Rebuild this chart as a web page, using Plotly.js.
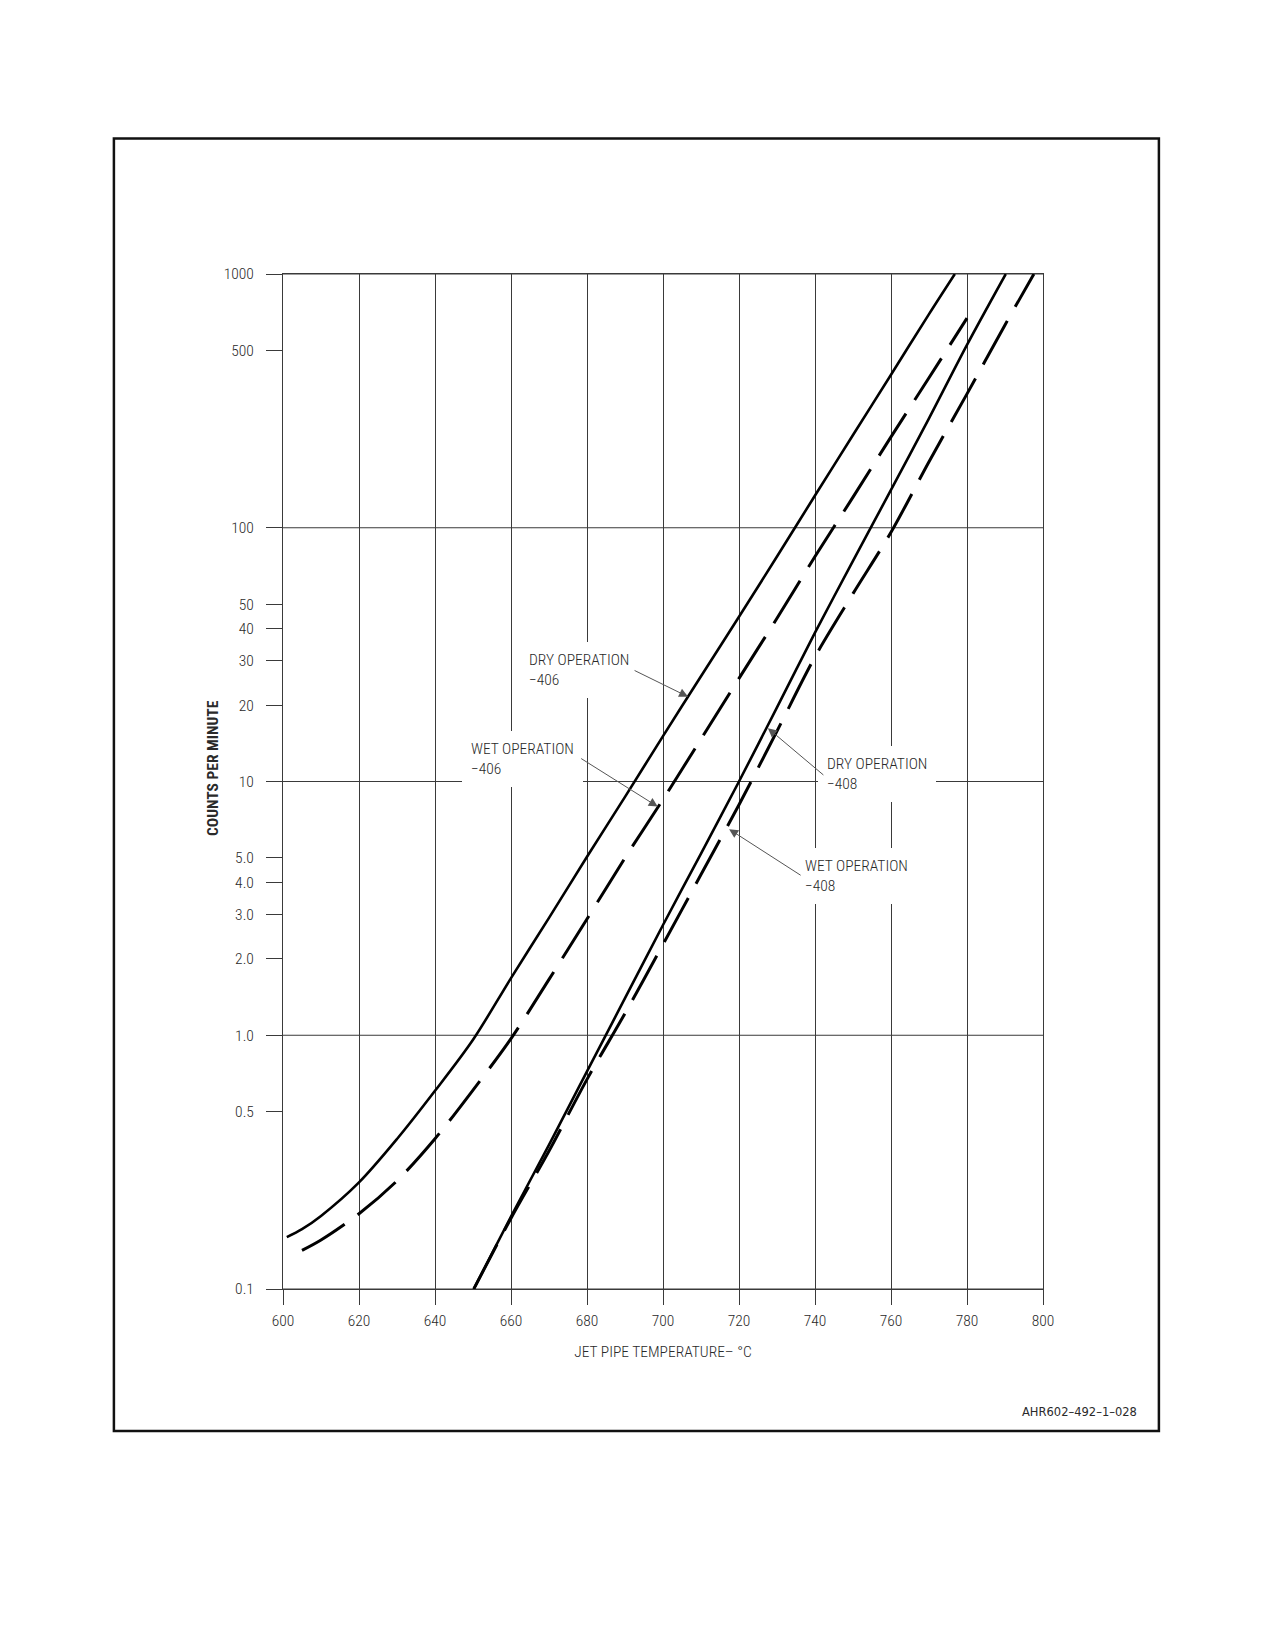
<!DOCTYPE html>
<html>
<head>
<meta charset="utf-8">
<script src="https://cdn.plot.ly/plotly-3.0.1.min.js"></script>
<style>
  html, body { margin: 0; padding: 0; background: #ffffff; }
  #chart { width: 1275px; height: 1650px; }
</style>
</head>
<body>
<div id="chart"></div>
<script>
// ---- data ----
const dry406T = [601, 605, 610, 620, 630, 640, 650, 660, 670, 680, 690, 700, 710, 720, 730, 740, 750, 760, 770, 776.8];
const dry406V = [0.16, 0.172, 0.194, 0.263, 0.39, 0.604, 0.96, 1.68, 2.9, 5.05, 8.7, 15.1, 26, 44.6, 77, 134, 232, 401, 695, 1000];

const wet406T = [605, 610, 620, 630, 640, 650, 660, 670, 680, 690, 700, 710, 720, 730, 740, 750, 760, 770, 780];
const wet406V = [0.142, 0.156, 0.198, 0.267, 0.391, 0.608, 0.97, 1.66, 2.87, 5.0, 8.5, 14.7, 25.5, 44, 77, 132, 228, 390, 670];

const dry408T = [650.2, 660, 670, 680, 690, 700, 710, 720, 730, 740, 750, 760, 770, 780, 790.2];
const dry408V = [0.1, 0.193, 0.37, 0.72, 1.40, 2.72, 5.2, 10, 19.6, 38.6, 74, 141, 270, 526, 1000];

const wet408T = [650.2, 660, 670, 680, 690, 700, 710, 720, 730, 740, 750, 760, 770, 780, 790, 797.6];
const wet408V = [0.1, 0.19, 0.35, 0.67, 1.22, 2.28, 4.3, 8.1, 15.8, 31, 55, 96, 182, 337, 630, 1000];

const xTicks = [600, 620, 640, 660, 680, 700, 720, 740, 760, 780, 800];
const yTickVals = [1000, 500, 100, 50, 40, 30, 20, 10, 5, 4, 3, 2, 1, 0.5, 0.1];
const yTickText = ['1000', '500', '100', '50', '40', '30', '20', '10', '5.0', '4.0', '3.0', '2.0', '1.0', '0.5', '0.1'];
const yGridVals = [0.1, 1, 10, 100, 1000];

// ---- styling ----
const narrow = '"Roboto Condensed", "Liberation Sans Narrow", Roboto, sans-serif';
const ink = '#2a2a2a';
const gridInk = '#3a3a3a';
const lightFont = { family: narrow, size: 15.5, color: ink, weight: 300 };

const solidLine = { color: '#000000', width: 2.6, shape: 'spline', smoothing: 0.9 };
const dashLine = { color: '#000000', width: 3, dash: '50px,16px', shape: 'spline', smoothing: 0.9 };

const traces = [
  { x: dry406T, y: dry406V, mode: 'lines', name: 'DRY OPERATION -406', line: solidLine },
  { x: wet406T, y: wet406V, mode: 'lines', name: 'WET OPERATION -406', line: dashLine },
  { x: dry408T, y: dry408V, mode: 'lines', name: 'DRY OPERATION -408', line: solidLine },
  { x: wet408T, y: wet408V, mode: 'lines', name: 'WET OPERATION -408', line: dashLine }
];

// decade grid lines only (shape y values on a log axis are given as data values)
const gridShapes = yGridVals.map(v => ({
  type: 'line', xref: 'paper', yref: 'y', x0: 0, x1: 1,
  y0: v, y1: v, layer: 'below',
  line: { color: gridInk, width: 1 }
}));

const frame = {
  type: 'rect', xref: 'paper', yref: 'paper',
  x0: -0.2225, x1: 1.1525, y0: -0.1398, y1: 1.1334,
  line: { color: '#111111', width: 2.5 }, fillcolor: 'rgba(0,0,0,0)'
};

function label(text, x, ylog) {
  return {
    text: text, x: x, y: ylog, xref: 'x', yref: 'y',
    xanchor: 'left', yanchor: 'middle', align: 'left', showarrow: false,
    bgcolor: '#ffffff', borderpad: 9, borderwidth: 0,
    font: lightFont
  };
}
function arrow(x, ylog, ax, ay) {
  return {
    text: '', x: x, y: ylog, xref: 'x', yref: 'y',
    showarrow: true, ax: ax, ay: ay, arrowhead: 2, arrowsize: 1.8,
    arrowwidth: 1, arrowcolor: '#555555', standoff: 0
  };
}

const annotations = [
  label('DRY OPERATION<br>\u2212406', 662.3, 1.440),
  label('WET OPERATION<br>\u2212406', 647.0, 1.087),
  label('DRY OPERATION<br>\u2212408', 740.7, 1.030),
  label('WET OPERATION<br>\u2212408', 734.9, 0.627),
  arrow(706.6, 1.334, -55, -27),
  arrow(698.6, 0.901, -78, -49),
  arrow(727.6, 1.210, 57, 48),
  arrow(717.4, 0.812, 73, 47),
  {
    text: '<b>COUNTS PER MINUTE</b>', xref: 'paper', yref: 'paper',
    x: -0.0921, y: 0.5133, xanchor: 'center', yanchor: 'middle', textangle: -90,
    showarrow: false, font: { family: narrow, size: 15.5, color: ink }
  },
  {
    text: 'AHR602\u2013492\u20131\u2013028', xref: 'paper', yref: 'paper',
    x: 1.126, y: -0.1213, xanchor: 'right', yanchor: 'middle', showarrow: false,
    font: { family: '"DejaVu Sans", sans-serif', size: 11.5, color: ink }
  }
];

const layout = {
  width: 1275, height: 1650,
  margin: { l: 283, r: 232, t: 274, b: 361, pad: 0 },
  paper_bgcolor: '#ffffff', plot_bgcolor: '#ffffff',
  showlegend: false,
  xaxis: {
    range: [600, 800], tickvals: xTicks, ticktext: xTicks.map(String),
    ticks: 'outside', ticklen: 15, tickwidth: 1, tickcolor: gridInk,
    ticklabelstandoff: 2,
    showgrid: true, gridcolor: gridInk, gridwidth: 1,
    showline: true, mirror: true, linecolor: gridInk, linewidth: 1,
    zeroline: false,
    tickfont: lightFont,
    title: { text: 'JET PIPE TEMPERATURE\u2013 \u00B0C', font: lightFont, standoff: 17 }
  },
  yaxis: {
    type: 'log', range: [-1, 3],
    tickvals: yTickVals, ticktext: yTickText,
    ticks: 'outside', ticklen: 16, tickwidth: 1, tickcolor: gridInk,
    ticklabelstandoff: 9,
    showgrid: false,
    showline: true, mirror: true, linecolor: gridInk, linewidth: 1,
    zeroline: false,
    tickfont: lightFont
  },
  shapes: gridShapes.concat([frame]),
  annotations: annotations
};

Plotly.newPlot('chart', traces, layout, { staticPlot: true, displayModeBar: false });
</script>
</body>
</html>
